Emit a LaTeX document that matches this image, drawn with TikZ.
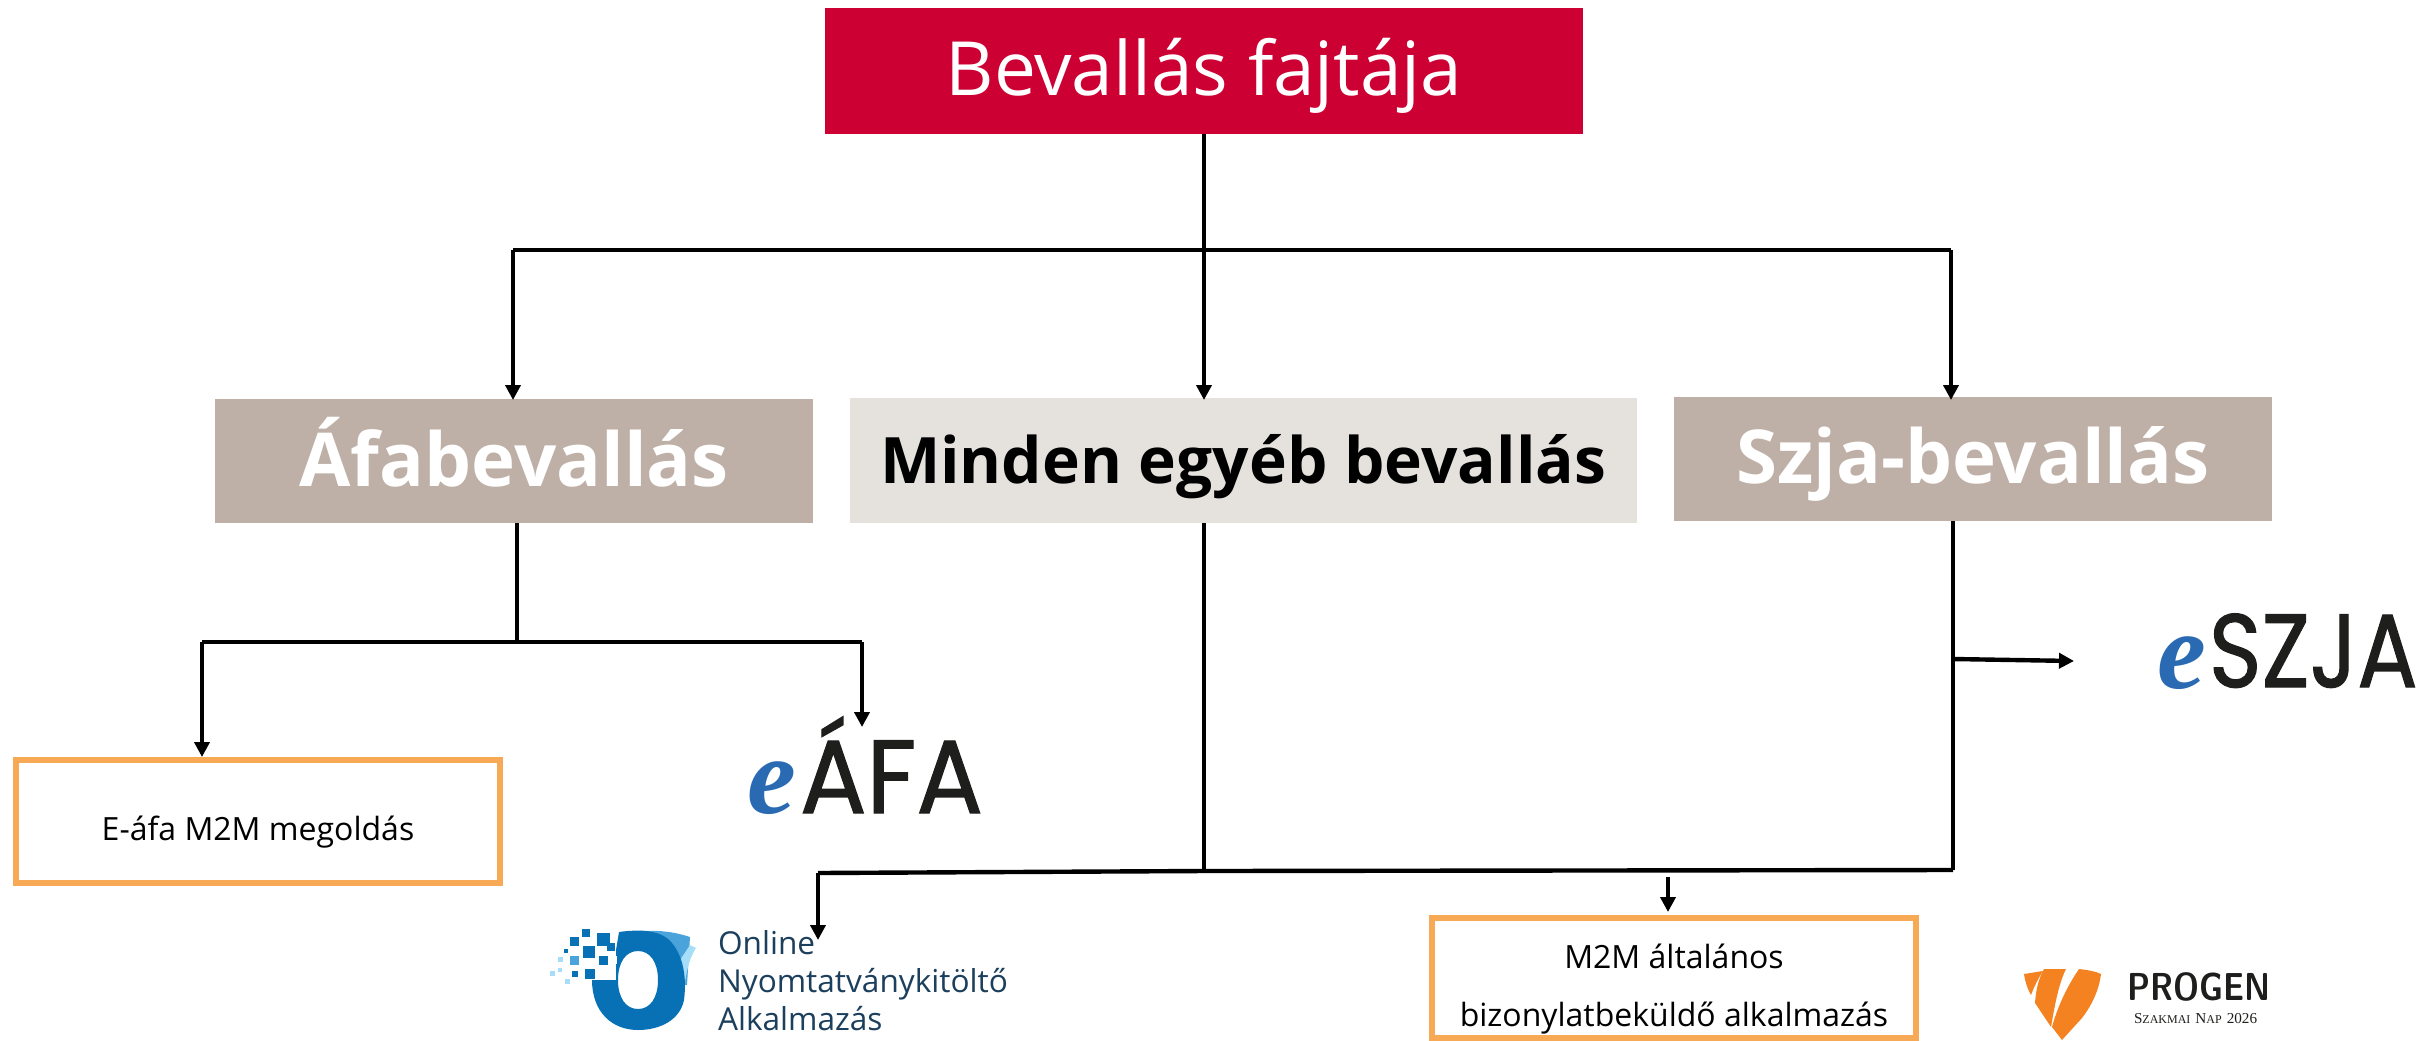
\documentclass[tikz,border=0pt]{standalone}
\usepackage{fontspec}
\setmainfont{Open Sans}
\newfontfamily\logofont[FakeBold=1.2]{Poppins}
\newfontfamily\eserif{Liberation Serif}
\definecolor{redbox}{HTML}{CC0033}
\definecolor{taupe}{HTML}{BEB0A6}
\definecolor{lightbox}{HTML}{E5E2DE}
\definecolor{orangeline}{HTML}{F7A955}
\definecolor{eblue}{HTML}{2A6AB2}
\definecolor{logoink}{HTML}{1E1E1C}
\definecolor{oblue}{HTML}{0871B5}
\definecolor{omid}{HTML}{4AA3DB}
\definecolor{olight}{HTML}{A6DDF8}
\definecolor{otext}{HTML}{1B3F5C}
\definecolor{shield}{HTML}{F58220}
\newcommand{\pxfont}[1]{\fontsize{#1}{#1}\selectfont}
\usetikzlibrary{arrows.meta,calc}
\tikzset{
  x=0.5pt,y=-0.5pt,
  box/.style={inner sep=0,outer sep=0,align=center},
  label/.style={box,anchor=base},
  link/.style={draw=black,line width=2.2pt,line cap=butt,line join=miter},
  arrow/.style={link,-{Triangle[length=7.5pt,width=7.5pt]}},
  m2m/.style={box,draw=orangeline,fill=white,line width=3pt,text=black},
}
\begin{document}
\begin{tikzpicture}
\useasboundingbox (0,0) rectangle (2432,1040);
% boxes
\node[box,fill=redbox,minimum width=379pt,minimum height=63pt] (root) at (1204,70.5) {};
\node[label,text=white,font=\pxfont{37.4}] (roott) at (1204,95) {Bevallás fajtája};
\node[box,fill=taupe,minimum width=299pt,minimum height=62pt] (afa) at (514,461) {};
\node[label,text=white,font=\pxfont{37.2}\bfseries] (afat) at (514,486) {Áfabevallás};
\node[box,fill=lightbox,minimum width=393.5pt,minimum height=62.5pt] (other) at (1243.5,460.5) {};
\node[label,text=black,font=\pxfont{32}\bfseries] (othert) at (1243,483) {Minden egyéb bevallás};
\node[box,fill=taupe,minimum width=299pt,minimum height=62pt] (szja) at (1973,459) {};
\node[label,text=white,font=\pxfont{37.2}\bfseries] (szjat) at (1973,483) {Szja-bevallás};
\node[m2m,minimum width=242pt,minimum height=61.5pt] (em2m) at (258,821.5) {};
\node[label,font=\pxfont{16}] (em2mt) at (258,840) {E-áfa M2M megoldás};
\node[m2m,minimum width=242pt,minimum height=60pt] (gm2m) at (1674,977.5) {};
\node[label,font=\pxfont{16}] (gl1) at (1674,968) {M2M általános};
\node[label,font=\pxfont{16}] (gl2) at (1674,1026) {bizonylatbeküldő alkalmazás};
% eÁFA
\node[box,anchor=base west,text=eblue,font=\pxfont{55}\eserif\bfseries\itshape] (eafae) at (747,813) {e};
\node[box,anchor=base west,text=logoink,font=\pxfont{52}\logofont] (eafat) at (800,813) {\scalebox{0.95}[1]{ÁFA}};
% eSZJA
\node[box,anchor=base west,text=eblue,font=\pxfont{55}\eserif\bfseries\itshape] (eszjae) at (2157,688) {e};
\node[box,anchor=base west,text=logoink,font=\pxfont{52}\logofont] (eszjat) at (2209,687) {\scalebox{0.86}[1]{SZJA}};
% online logo
\fill[omid] (640,931) .. controls (660,930) and (675,932) .. (690,937) -- (687,985) -- (670,985) -- cycle;
\fill[olight] (690,945) -- (696,948) .. controls (688,960) and (686,975) .. (684,990) -- (680,960) -- cycle;
\fill[oblue,even odd rule] (619,932) .. controls (640,929) and (662,930) .. (672,943) .. controls (686,960) and (686,985) .. (684,1000) .. controls (680,1020) and (660,1030) .. (638,1030) .. controls (612,1030) and (592,1012) .. (592,980) -- (616,980) -- (616,950) -- cycle
  (638,951) .. controls (626,951) and (618,962) .. (618,980) .. controls (618,998) and (626,1009) .. (638,1009) .. controls (650,1009) and (658,998) .. (658,980) .. controls (658,962) and (650,951) .. (638,951) -- cycle;
\foreach \x/\y/\s/\c in {574/941/9/oblue,586/933/8/oblue,603/939/13/oblue,589/952/12.5/oblue,566/951/4/oblue,560/959/5/olight,574/960/9/omid,603/960/9/oblue,613/960/8/white,560/970/4.5/olight,552/973/5/olight,575/974/5.5/oblue,590/974/10.5/oblue,600/974/9/white,567/981/5/olight,611/947/8/oblue}
  \fill[\c] ({\x-\s/2},{\y-\s/2}) rectangle ++(\s,\s);
\node[box,anchor=base west,text=otext,font=\pxfont{15.8}] (ot1) at (718,954) {Online};
\node[box,anchor=base west,text=otext,font=\pxfont{15.8}] (ot2) at (718,992) {Nyomtatványkitöltő};
\node[box,anchor=base west,text=otext,font=\pxfont{15.8}] (ot3) at (718,1030) {Alkalmazás};
% Progen
\fill[shield] (2024,974) -- (2043,971) .. controls (2036,982) and (2033,990) .. (2031,995) .. controls (2027,988) and (2025,981) .. (2024,974) -- cycle;
\fill[shield] (2044,969) -- (2066,969) .. controls (2058,985) and (2054,1010) .. (2051,1027) -- (2035,1003) .. controls (2036,990) and (2038,980) .. (2044,969) -- cycle;
\fill[shield] (2079,969) .. controls (2087,970) and (2095,971) .. (2101,974) .. controls (2099,990) and (2092,1005) .. (2082,1018) -- (2062,1040) -- (2052,1027) .. controls (2058,1005) and (2068,985) .. (2079,969) -- cycle;
\node[box,anchor=base west,text=logoink,font=\pxfont{19.5}\sffamily\bfseries] (pg) at (2127,1000) {\scalebox{0.84}[1]{PROGEN}};
\node[box,anchor=base west,text=logoink,font=\eserif] (pg2) at (2134,1023) {{\pxfont{7.6}S}{\pxfont{6}ZAKMAI} {\pxfont{7.6}N}{\pxfont{6}AP} {\pxfont{7.6}2026}};
% connector junctions
\coordinate (j1) at (root.south |- 0,250);
\coordinate (a1) at (513,250);
\coordinate (a3) at (1951,250);
\coordinate (j2) at (517,642);
\coordinate (b1) at (202,642);
\coordinate (b2) at (862,642);
\coordinate (tipe) at (862,727);
\coordinate (c1) at (818,873);
\coordinate (tipo) at (818,940);
\coordinate (c2) at (1953,870);
\coordinate (c3) at (1204,871);
\coordinate (s1) at (1953,659);
\coordinate (tipz) at (2074,661);
\coordinate (d1) at (1668,877);
\draw[link] (root.south) -- (j1);
\draw[link] (a1) -- (a3);
\draw[arrow] (a1) -- (513,400);
\draw[arrow] (j1) -- (1204,400);
\draw[arrow] (a3) -- (1951,400);
\draw[link] (517,523) -- (j2);
\draw[link] (b1) -- (b2);
\draw[arrow] (b1) -- (202,757);
\draw[arrow] (b2) -- (tipe);
\draw[link] (1204,523) -- (c3);
\draw[link] (1953,521) -- (c2);
\draw[link] (tipo |- c1) -- (c1) -- (c3) -- (c2);
\draw[arrow] (c1) -- (tipo);
\draw[arrow] (s1) -- (tipz);
\draw[arrow] (d1) -- (1668,912);
\end{tikzpicture}
\end{document}
